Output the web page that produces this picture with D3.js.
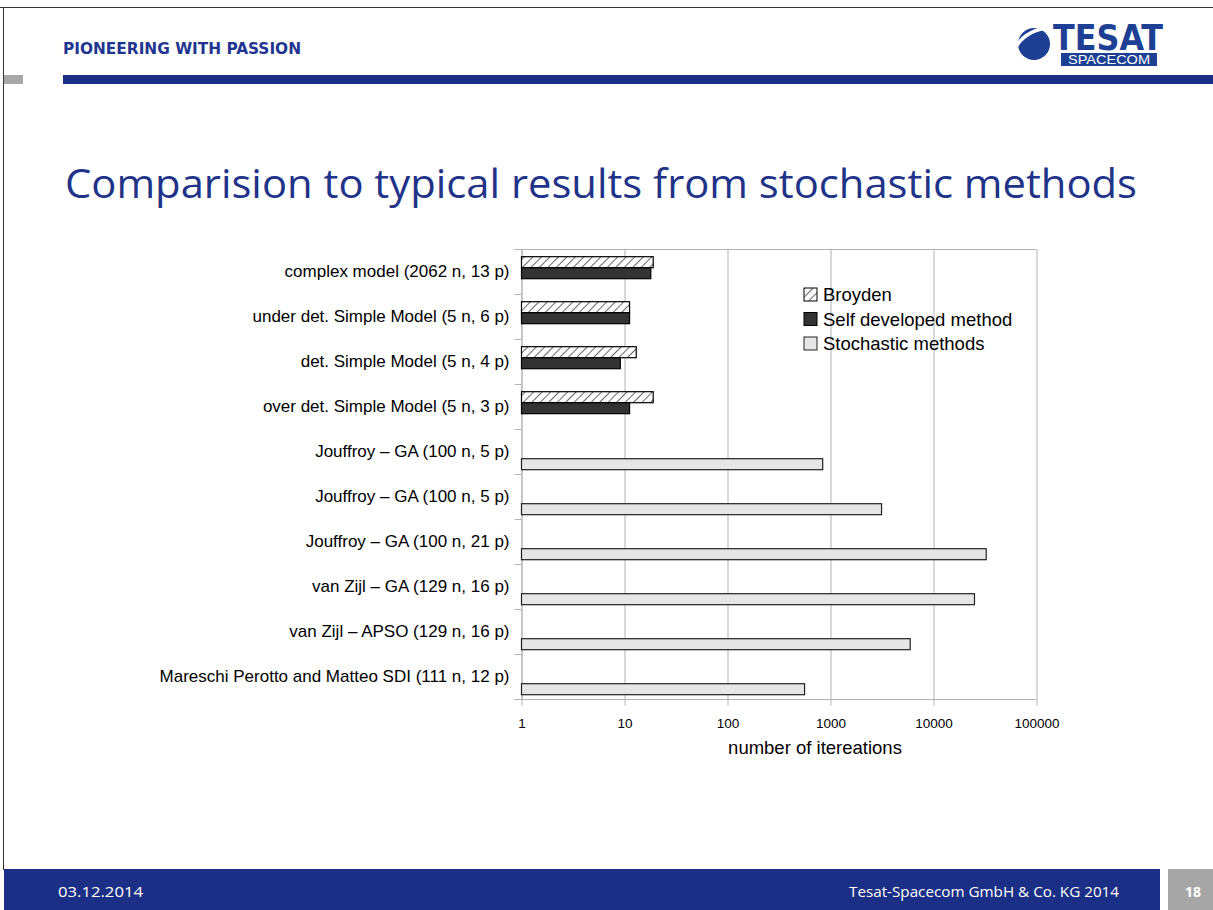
<!DOCTYPE html>
<html>
<head>
<meta charset="utf-8">
<script src="https://cdn.jsdelivr.net/npm/d3@7"></script>
<style>
  body { margin: 0; background: #fff; }
  svg { display: block; }
</style>
</head>
<body>
<div id="slide"></div>
<script>
// chart data, top to bottom
var categories = [
  "complex model (2062 n, 13 p)",
  "under det. Simple Model (5 n, 6 p)",
  "det. Simple Model (5 n, 4 p)",
  "over det. Simple Model (5 n, 3 p)",
  "Jouffroy \u2013 GA (100 n, 5 p)",
  "Jouffroy \u2013 GA (100 n, 5 p)",
  "Jouffroy \u2013 GA (100 n, 21 p)",
  "van Zijl \u2013 GA (129 n, 16 p)",
  "van Zijl \u2013 APSO (129 n, 16 p)",
  "Mareschi Perotto and Matteo SDI (111 n, 12 p)"
];
var seriesNames = ["Broyden", "Self developed method", "Stochastic methods"];
var broyden    = [19, 11.2, 13, 19, null, null, null, null, null, null];
var selfMethod = [18, 11.2, 9.1, 11.2, null, null, null, null, null, null];
var stochastic = [null, null, null, null, 840, 3130, 32500, 25000, 5940, 560];
var xTicks = [1, 10, 100, 1000, 10000, 100000];

var W = 1213, H = 910;
var navy = "#1b2f86";

var svg = d3.select("#slide").append("svg")
    .attr("width", W)
    .attr("height", H);

// hatch pattern for Broyden
var defs = svg.append("defs");
var pat = defs.append("pattern")
    .attr("id", "hatch")
    .attr("patternUnits", "userSpaceOnUse")
    .attr("width", 6)
    .attr("height", 6)
    .attr("patternTransform", "rotate(45)");
pat.append("rect").attr("width", 6).attr("height", 6).attr("fill", "#fff");
pat.append("line")
    .attr("x1", 0).attr("y1", 0).attr("x2", 0).attr("y2", 6)
    .attr("stroke", "#000").attr("stroke-width", 1.2);

// ---- slide frame / header ----
svg.append("line").attr("x1", 0).attr("x2", W).attr("y1", 7.5).attr("y2", 7.5)
    .attr("stroke", "#333").attr("stroke-width", 1);
svg.append("line").attr("x1", 3.5).attr("x2", 3.5).attr("y1", 7).attr("y2", 870)
    .attr("stroke", "#333").attr("stroke-width", 1);

svg.append("text")
    .attr("x", 63).attr("y", 54)
    .attr("textLength", 238).attr("lengthAdjust", "spacingAndGlyphs")
    .style("font-family", "'Liberation Sans Narrow', 'DejaVu Sans Condensed', sans-serif")
    .style("font-weight", "bold").style("font-size", "16px")
    .attr("fill", "#1f3590")
    .text("PIONEERING WITH PASSION");

svg.append("rect").attr("x", 4).attr("y", 75).attr("width", 19).attr("height", 9).attr("fill", "#a8a8a8");
svg.append("rect").attr("x", 63).attr("y", 75).attr("width", W - 63).attr("height", 9).attr("fill", navy);

// logo
var logoBlue = "#1d3f94";
var logo = svg.append("g");
logo.append("circle").attr("cx", 1034).attr("cy", 44).attr("r", 16).attr("fill", logoBlue);
logo.append("path")
    .attr("d", "M1015,49 Q1024,30 1052,27")
    .attr("fill", "none").attr("stroke", "#fff").attr("stroke-width", 3.5);
logo.append("text")
    .attr("x", 1053).attr("y", 50)
    .attr("textLength", 110).attr("lengthAdjust", "spacingAndGlyphs")
    .style("font-family", "'Liberation Sans Narrow', 'DejaVu Sans Condensed', sans-serif")
    .style("font-weight", "bold").style("font-size", "36px")
    .attr("fill", logoBlue)
    .text("TESAT");
logo.append("rect").attr("x", 1061).attr("y", 53).attr("width", 96).attr("height", 13).attr("fill", logoBlue);
logo.append("text")
    .attr("x", 1109).attr("y", 64).attr("text-anchor", "middle")
    .attr("textLength", 82).attr("lengthAdjust", "spacingAndGlyphs")
    .style("font-family", "'Liberation Sans', Arial, sans-serif")
    .style("font-size", "12px")
    .attr("fill", "#fff")
    .text("SPACECOM");

// title
svg.append("text")
    .attr("x", 65).attr("y", 198)
    .attr("textLength", 1072).attr("lengthAdjust", "spacingAndGlyphs")
    .style("font-family", "'Open Sans', 'DejaVu Sans', sans-serif")
    .style("font-size", "41px")
    .attr("fill", "#1f3388")
    .text("Comparision to typical results from stochastic methods");

// ---- chart ----
var x = d3.scaleLog().domain([1, 100000]).range([521.5, 1036.5]);
var idx = d3.range(categories.length);
var y0 = d3.scaleBand().domain(idx).range([249.5, 699.5]);
var y1 = d3.scaleBand().domain(seriesNames).range([0, y0.bandwidth()])
    .paddingOuter(0.545).align(0.6);

var axisColor = "#b3b3b3";
var chart = svg.append("g").style("font-family", "'Liberation Sans', Arial, sans-serif");

// vertical gridlines
chart.append("g")
    .attr("transform", "translate(0," + y0.range()[1] + ")")
    .call(d3.axisBottom(x).tickValues(xTicks).tickSize(-(y0.range()[1] - y0.range()[0])).tickFormat(""))
    .call(function(g) {
        g.select(".domain").remove();
        g.selectAll("line").attr("stroke", axisColor);
    });

// top border
chart.append("line")
    .attr("x1", x.range()[0] - 7).attr("x2", x.range()[1])
    .attr("y1", y0.range()[0]).attr("y2", y0.range()[0])
    .attr("stroke", axisColor);

// bottom axis
chart.append("g")
    .attr("transform", "translate(0," + y0.range()[1] + ")")
    .call(d3.axisBottom(x).tickValues(xTicks).tickFormat(d3.format("d")).tickSize(6).tickPadding(13).tickSizeOuter(0))
    .call(function(g) {
        g.select(".domain").attr("stroke", axisColor).attr("d", "M" + (x.range()[0] - 7) + ",0H" + x.range()[1]);
        g.selectAll("line").attr("stroke", axisColor);
        g.selectAll("text").attr("fill", "#000").style("font-size", "13.5px")
            .style("font-family", "'Liberation Sans', Arial, sans-serif");
    });

// left axis with category labels
chart.append("g")
    .attr("transform", "translate(" + x.range()[0] + ",0)")
    .call(d3.axisLeft(y0).tickSize(0).tickPadding(12).tickFormat(function(i) { return categories[i]; }))
    .call(function(g) {
        g.select(".domain").attr("stroke", axisColor);
        g.selectAll("text").attr("fill", "#000").style("font-size", "17px")
            .style("font-family", "'Liberation Sans', Arial, sans-serif");
    });

// band boundary ticks on y axis
chart.append("g").selectAll("line")
    .data(idx.concat([categories.length]))
    .enter().append("line")
    .attr("x1", x.range()[0] - 7).attr("x2", x.range()[0])
    .attr("y1", function(i) { return i < categories.length ? y0(i) : y0.range()[1]; })
    .attr("y2", function(i) { return i < categories.length ? y0(i) : y0.range()[1]; })
    .attr("stroke", axisColor);

// bars
var seriesData = [
    { name: seriesNames[0], values: broyden, fill: "url(#hatch)", stroke: "#000" },
    { name: seriesNames[1], values: selfMethod, fill: "#333333", stroke: "#000" },
    { name: seriesNames[2], values: stochastic, fill: "#e6e6e6", stroke: "#222" }
];

seriesData.forEach(function(s) {
    chart.append("g").selectAll("rect")
        .data(s.values.map(function(v, i) { return { i: i, v: v }; }).filter(function(d) { return d.v != null; }))
        .enter().append("rect")
        .attr("x", x(1))
        .attr("y", function(d) { return y0(d.i) + y1(s.name); })
        .attr("width", function(d) { return x(d.v) - x(1); })
        .attr("height", y1.bandwidth())
        .attr("fill", s.fill)
        .attr("stroke", s.stroke)
        .attr("stroke-width", 1.2);
});

// axis title
chart.append("text")
    .attr("x", 815).attr("y", 754)
    .attr("text-anchor", "middle")
    .style("font-size", "18.5px")
    .attr("fill", "#000")
    .text("number of itereations");

// legend
var legend = chart.append("g").attr("transform", "translate(804,288)");
var leg = legend.selectAll("g")
    .data(seriesData)
    .enter().append("g")
    .attr("transform", function(d, i) { return "translate(0," + (i * 24.5) + ")"; });
leg.append("rect")
    .attr("width", 13).attr("height", 13)
    .attr("fill", function(d) { return d.fill; })
    .attr("stroke", function(d) { return d.stroke; });
leg.append("text")
    .attr("x", 19).attr("y", 13)
    .style("font-size", "18.5px")
    .attr("fill", "#000")
    .text(function(d) { return d.name; });

// ---- footer ----
svg.append("rect").attr("x", 4).attr("y", 869).attr("width", 1156).attr("height", H - 869).attr("fill", navy);
svg.append("rect").attr("x", 1168).attr("y", 869).attr("width", W - 1168).attr("height", H - 869).attr("fill", "#a6a6a6");
var footFont = "'Open Sans', 'DejaVu Sans', sans-serif";
svg.append("text")
    .attr("x", 58).attr("y", 897)
    .attr("textLength", 85).attr("lengthAdjust", "spacingAndGlyphs")
    .style("font-family", footFont).style("font-size", "14px")
    .attr("fill", "#fff")
    .text("03.12.2014");
svg.append("text")
    .attr("x", 1119).attr("y", 897).attr("text-anchor", "end")
    .attr("textLength", 270).attr("lengthAdjust", "spacingAndGlyphs")
    .style("font-family", footFont).style("font-size", "14px")
    .attr("fill", "#fff")
    .text("Tesat-Spacecom GmbH & Co. KG 2014");
svg.append("text")
    .attr("x", 1193).attr("y", 897).attr("text-anchor", "middle")
    .style("font-family", footFont).style("font-size", "14px").style("font-weight", "bold")
    .attr("fill", "#fff")
    .text("18");
</script>
</body>
</html>
